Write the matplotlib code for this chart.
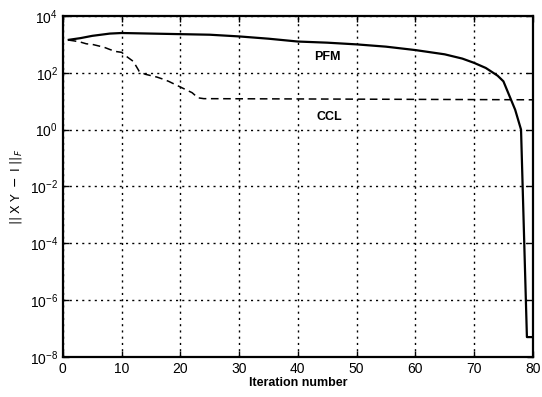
import matplotlib.pyplot as plt
from matplotlib.ticker import FixedLocator

# values (log10 of ||XY - I||_F)
pfm_iter = [1, 3, 5, 8, 10, 15, 20, 25, 30, 35, 40, 45, 50, 55, 60, 65, 68, 70,
            72, 74, 75, 76, 77, 78, 79, 80]
pfm_log = [3.16, 3.22, 3.3, 3.38, 3.4, 3.38, 3.36, 3.34, 3.28, 3.2, 3.1, 3.06,
           3.0, 2.92, 2.8, 2.65, 2.5, 2.35, 2.17, 1.9, 1.7, 1.2, 0.7, 0.0,
           -7.3, -7.3]

ccl_iter = [1, 2, 3, 4, 5, 6, 7, 8, 9, 10, 11, 12, 13, 14, 15, 16, 17, 18, 19,
            20, 21, 22, 23, 24, 40, 80]
ccl_log = [3.15, 3.12, 3.08, 3.02, 3.0, 2.95, 2.9, 2.82, 2.75, 2.72, 2.55, 2.4,
           2.05, 1.95, 1.9, 1.85, 1.78, 1.7, 1.6, 1.5, 1.4, 1.3, 1.12, 1.09,
           1.08, 1.05]

xticks = [0, 10, 20, 30, 40, 50, 60, 70, 80]
yticks = [1e-8, 1e-6, 1e-4, 1e-2, 1e0, 1e2, 1e4]

plt.rcParams['font.family'] = ['Liberation Sans', 'DejaVu Sans']

fig = plt.figure(figsize=(5.42, 3.97), dpi=100)
ax = fig.add_axes([0.116, 0.1008, 0.867, 0.859])

pfm = [10 ** v for v in pfm_log]
ccl = [10 ** v for v in ccl_log]
ax.semilogy(pfm_iter, pfm, color='black', linewidth=1.6)
ax.semilogy(ccl_iter, ccl, color='black', linewidth=1.1, linestyle=(0, (5, 3)))

ax.set_xlim(0, 80)
ax.set_ylim(1e-8, 1e4)
ax.xaxis.set_major_locator(FixedLocator(xticks))
ax.yaxis.set_major_locator(FixedLocator(yticks))
ax.yaxis.set_minor_locator(FixedLocator([]))

ax.grid(True, color='black', linestyle=(0, (1.5, 3)), linewidth=1.0)
ax.tick_params(direction='in', top=True, right=True, length=4, width=1,
               labelsize=10)
for s in ax.spines.values():
    s.set_linewidth(1.6)

ax.text(45, 10 ** 2.56, 'PFM', ha='center', va='center', fontsize=9,
        fontweight='bold')
ax.text(45.4, 10 ** 0.46, 'CCL', ha='center', va='center', fontsize=9,
        fontweight='bold')

ax.set_xlabel('Iteration number', fontsize=9, fontweight='bold', labelpad=1)
ax.set_ylabel(r'$||\;\mathrm{X\;Y\;-\;I}\;||_F$', fontsize=9, labelpad=4)

fig.savefig('out.png', dpi=100)
